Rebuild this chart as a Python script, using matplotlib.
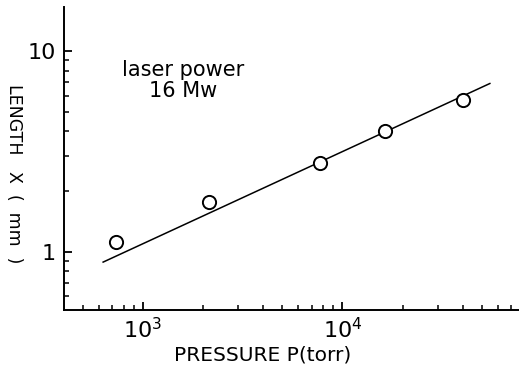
import matplotlib
matplotlib.use("Agg")
import matplotlib.pyplot as plt
from matplotlib.ticker import LogLocator, FixedLocator, FixedFormatter, NullFormatter

# Data
pressure = [732, 2150, 7700, 16400, 40200]      # torr
length_x = [1.12, 1.78, 2.77, 4.02, 5.74]       # mm
fit_p = [632, 54800]
fit_x = [0.888, 6.90]

x_major = [1e3, 1e4]
x_labels = [r"$10^{3}$", r"$10^{4}$"]
y_major = [1, 10]
y_labels = ["1", "10"]

plt.rcParams['font.family'] = ['DejaVu Sans']
plt.rcParams['mathtext.fontset'] = 'dejavusans'

fig = plt.figure(figsize=(5.19, 3.70), dpi=100)
ax = fig.add_axes([0.124, 0.162, 0.876, 0.819])

ax.set_xscale('log')
ax.set_yscale('log')
ax.set_xlim(404, 76700)
ax.set_ylim(0.512, 16.6)

ax.plot(fit_p, fit_x, color='black', lw=1.1)
ax.plot(pressure, length_x, 'o', ms=9.5, mfc='white', mec='black', mew=1.4)

for s in ['top', 'right']:
    ax.spines[s].set_visible(False)
for s in ['left', 'bottom']:
    ax.spines[s].set_linewidth(1.4)

ax.xaxis.set_major_locator(FixedLocator(x_major))
ax.xaxis.set_major_formatter(FixedFormatter(x_labels))
ax.xaxis.set_minor_locator(LogLocator(base=10, subs=range(2, 10), numticks=20))
ax.xaxis.set_minor_formatter(NullFormatter())
ax.yaxis.set_major_locator(FixedLocator(y_major))
ax.yaxis.set_major_formatter(FixedFormatter(y_labels))
ax.yaxis.set_minor_locator(LogLocator(base=10, subs=range(2, 10), numticks=20))
ax.yaxis.set_minor_formatter(NullFormatter())

ax.tick_params(which='major', direction='in', length=6, width=1.3, labelsize=16, pad=6)
ax.tick_params(which='minor', direction='in', length=3.5, width=1.1)
ax.tick_params(axis='x', which='major', pad=5)

ax.set_xlabel("PRESSURE P(torr)", fontsize=14.5)
ax.xaxis.set_label_coords(0.435, -0.118)
ax.set_ylabel("LENGTH   X  (  mm  )", fontsize=12.5, rotation=270, va='center')
ax.yaxis.set_label_coords(-0.11, 0.45)

ax.text(0.262, 0.792, "laser power", transform=ax.transAxes, ha='center', va='center', fontsize=15)
ax.text(0.262, 0.723, "16 Mw", transform=ax.transAxes, ha='center', va='center', fontsize=15)

fig.savefig("out.png", dpi=100)
